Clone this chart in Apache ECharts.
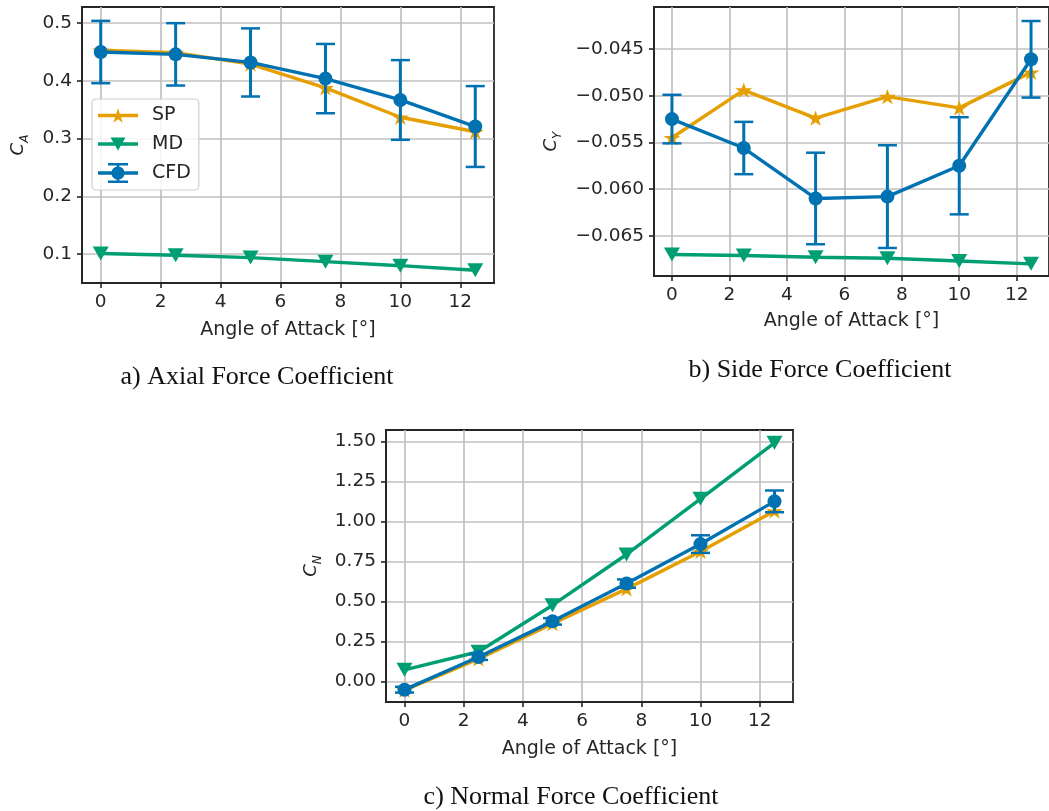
<!DOCTYPE html>
<html>
<head>
<meta charset="utf-8">
<script src="https://cdn.jsdelivr.net/npm/echarts@6/dist/echarts.min.js"></script>
<style>
  html, body { margin: 0; padding: 0; background: #ffffff; }
  #chart { width: 1049px; height: 811px; }
</style>
</head>
<body>
<div id="chart"></div>
<script>
// Angle of attack (degrees) shared by all panels
const angles = [0, 2.5, 5, 7.5, 10, 12.5];
const angleTicks = [0, 2, 4, 6, 8, 10, 12];

// a) Axial force coefficient
const caSP  = [0.453, 0.449, 0.429, 0.388, 0.337, 0.312];
const caMD  = [0.101, 0.098, 0.094, 0.087, 0.080, 0.072];
const caCFD = [0.450, 0.446, 0.432, 0.404, 0.367, 0.321];
const caErr = [0.054, 0.054, 0.059, 0.060, 0.069, 0.070];
const caTicks = [0.1, 0.2, 0.3, 0.4, 0.5];

// b) Side force coefficient
const cySP  = [-0.0545, -0.0494, -0.0524, -0.0501, -0.0513, -0.0475];
const cyMD  = [-0.0670, -0.0671, -0.0673, -0.0674, -0.0677, -0.0680];
const cyCFD = [-0.0525, -0.0556, -0.0610, -0.0608, -0.0575, -0.0461];
const cyErr = [0.0026, 0.0028, 0.0049, 0.0055, 0.0052, 0.0041];
const cyTicks = [-0.065, -0.060, -0.055, -0.050, -0.045];

// c) Normal force coefficient
const cnSP  = [-0.055, 0.140, 0.360, 0.578, 0.812, 1.065];
const cnMD  = [0.072, 0.185, 0.476, 0.793, 1.141, 1.491];
const cnCFD = [-0.052, 0.152, 0.375, 0.611, 0.858, 1.125];
const cnErr = [0.018, 0.018, 0.020, 0.026, 0.055, 0.068];
const cnTicks = [0.00, 0.25, 0.50, 0.75, 1.00, 1.25, 1.50];

const captions = ['a) Axial Force Coefficient', 'b) Side Force Coefficient', 'c) Normal Force Coefficient'];

const COL_SP = '#E69F00', COL_MD = '#009E73', COL_CFD = '#0072B2';
const INK = '#262626';
const FONT = 'DejaVu Sans';

// marker shapes
const STAR = 'path://M8 0 L9.796 5.528 L15.608 5.528 L10.906 8.944 L12.702 14.472 L8 11.056 L3.298 14.472 L5.094 8.944 L0.392 5.528 L6.204 5.528 Z';
const TRI_DOWN = 'path://M0 0 L15 0 L7.5 13 Z';

// legend icons: line sample with marker (and error bar for CFD)
const ICON_SP = 'path://M0 5.5 H40 V9 H0 Z M20 0 L21.796 5.528 L27.608 5.528 L22.906 8.944 L24.702 14.472 L20 11.056 L15.298 14.472 L17.094 8.944 L12.392 5.528 L18.204 5.528 Z';
const ICON_MD = 'path://M0 4.8 H40 V8.3 H0 Z M12.5 0 L27.5 0 L20 13 Z';
const ICON_CFD = 'path://M0 8.3 H40 V11.7 H0 Z M18.6 0 H21.4 V20 H18.6 Z M10 0 H30 V2.4 H10 Z M10 17.6 H30 V20 H10 Z M26.6 10 A6.6 6.6 0 1 1 13.4 10 A6.6 6.6 0 1 1 26.6 10 Z';

const pairs = (ys) => angles.map((a, i) => [a, ys[i]]);
const bars = (ys, err) => angles.map((a, i) => [a, ys[i] - err[i], ys[i] + err[i]]);

function errorBarItem(params, api) {
  const x = api.value(0);
  const lo = api.coord([x, api.value(1)]);
  const hi = api.coord([x, api.value(2)]);
  const cap = 9.5;
  return {
    type: 'group',
    children: [
      { type: 'line', shape: { x1: lo[0], y1: lo[1], x2: hi[0], y2: hi[1] }, style: { stroke: COL_CFD, lineWidth: 3 } },
      { type: 'line', shape: { x1: lo[0] - cap, y1: lo[1], x2: lo[0] + cap, y2: lo[1] }, style: { stroke: COL_CFD, lineWidth: 2.5 } },
      { type: 'line', shape: { x1: hi[0] - cap, y1: hi[1], x2: hi[0] + cap, y2: hi[1] }, style: { stroke: COL_CFD, lineWidth: 2.5 } }
    ]
  };
}

const grids = [
  { left: 82, top: 7, width: 412, height: 276 },
  { left: 654, top: 7, width: 403, height: 269 },
  { left: 386, top: 430, width: 407, height: 272 }
];

const yCfg = [
  { min: 0.050, max: 0.528, ticks: caTicks, fmt: v => v.toFixed(1), sub: 'A', gap: 51 },
  { min: -0.0693, max: -0.0405, ticks: cyTicks, fmt: v => '\u2212' + Math.abs(v).toFixed(3), sub: 'Y', gap: 90 },
  { min: -0.129, max: 1.571, ticks: cnTicks, fmt: v => v.toFixed(2), sub: 'N', gap: 62 }
];

const xAxes = grids.map((g, i) => ({
  type: 'value', gridIndex: i, min: -0.625, max: 13.125,
  name: 'Angle of Attack [\u00b0]', nameLocation: 'middle', nameGap: i === 1 ? 36 : 38,
  nameTextStyle: { color: INK, fontSize: 19, fontFamily: FONT },
  axisLine: { show: true, onZero: false, lineStyle: { color: INK, width: 1.8 } },
  axisTick: { show: true, length: 5, lineStyle: { color: INK, width: 1.6 }, customValues: angleTicks },
  axisLabel: { color: INK, fontSize: 18.5, fontFamily: FONT, margin: 10, customValues: angleTicks, formatter: v => String(v) },
  splitLine: { show: true, lineStyle: { color: '#c0c0c0', width: 1.7 } }
}));

const yAxes = yCfg.map((c, i) => ({
  type: 'value', gridIndex: i, min: c.min, max: c.max,
  name: '{c|C}{s|' + c.sub + '}', nameLocation: 'middle', nameRotate: 90, nameGap: c.gap,
  nameTextStyle: {
    color: INK, fontFamily: FONT,
    rich: {
      c: { fontSize: 18, fontStyle: 'italic', fontFamily: FONT, color: INK, lineHeight: 22, verticalAlign: 'top' },
      s: { fontSize: 12, fontStyle: 'italic', fontFamily: FONT, color: INK, lineHeight: 22, verticalAlign: 'bottom' }
    }
  },
  axisLine: { show: true, onZero: false, lineStyle: { color: INK, width: 1.8 } },
  axisTick: { show: true, length: 5, lineStyle: { color: INK, width: 1.6 }, customValues: c.ticks },
  axisLabel: { color: INK, fontSize: 18.5, fontFamily: FONT, margin: 10, customValues: c.ticks, formatter: c.fmt },
  splitLine: { show: true, lineStyle: { color: '#c0c0c0', width: 1.7 } }
}));

const panels = [
  { sp: caSP, md: caMD, cfd: caCFD, err: caErr },
  { sp: cySP, md: cyMD, cfd: cyCFD, err: cyErr },
  { sp: cnSP, md: cnMD, cfd: cnCFD, err: cnErr }
];

const series = [];
panels.forEach((p, i) => {
  series.push({
    name: 'SP', type: 'line', xAxisIndex: i, yAxisIndex: i, data: pairs(p.sp),
    symbol: STAR, symbolSize: [17, 16], symbolKeepAspect: true,
    lineStyle: { color: COL_SP, width: 3.4 }, itemStyle: { color: COL_SP }, z: 2, animation: false
  });
  series.push({
    name: 'MD', type: 'line', xAxisIndex: i, yAxisIndex: i, data: pairs(p.md),
    symbol: TRI_DOWN, symbolSize: [16, 14],
    lineStyle: { color: COL_MD, width: 3.4 }, itemStyle: { color: COL_MD }, z: 2, animation: false
  });
  series.push({
    name: 'CFD', type: 'custom', xAxisIndex: i, yAxisIndex: i, data: bars(p.cfd, p.err),
    encode: { x: 0, y: [1, 2] }, renderItem: errorBarItem, z: 3, animation: false
  });
  series.push({
    name: 'CFD', type: 'line', xAxisIndex: i, yAxisIndex: i, data: pairs(p.cfd),
    symbol: 'circle', symbolSize: 14,
    lineStyle: { color: COL_CFD, width: 3.4 }, itemStyle: { color: COL_CFD }, z: 4, animation: false
  });
});

const chart = echarts.init(document.getElementById('chart'), null, { renderer: 'canvas' });
chart.setOption({
  backgroundColor: '#ffffff',
  animation: false,
  grid: grids.map(g => Object.assign({ show: true, borderColor: INK, borderWidth: 1.8, backgroundColor: 'transparent' }, g)),
  xAxis: xAxes,
  yAxis: yAxes,
  legend: {
    orient: 'vertical', left: 92, top: 99,
    padding: [7, 8, 7, 6], itemGap: 9.5, itemWidth: 40, itemHeight: 20,
    symbolKeepAspect: true,
    backgroundColor: 'rgba(255,255,255,0.85)', borderColor: '#d0d0d0', borderWidth: 1.2, borderRadius: 4,
    textStyle: { color: INK, fontSize: 19, fontFamily: FONT, padding: [0, 0, 0, 9] },
    data: [
      { name: 'SP', icon: ICON_SP, itemStyle: { color: COL_SP } },
      { name: 'MD', icon: ICON_MD, itemStyle: { color: COL_MD } },
      { name: 'CFD', icon: ICON_CFD, itemStyle: { color: COL_CFD } }
    ]
  },
  graphic: [
    { type: 'text', x: 257, y: 377, style: { text: captions[0], font: '26px "Liberation Serif"', fill: '#111', align: 'center', verticalAlign: 'middle' } },
    { type: 'text', x: 820, y: 370, style: { text: captions[1], font: '26px "Liberation Serif"', fill: '#111', align: 'center', verticalAlign: 'middle' } },
    { type: 'text', x: 571, y: 797, style: { text: captions[2], font: '26px "Liberation Serif"', fill: '#111', align: 'center', verticalAlign: 'middle' } }
  ],
  series: series
});
</script>
</body>
</html>
